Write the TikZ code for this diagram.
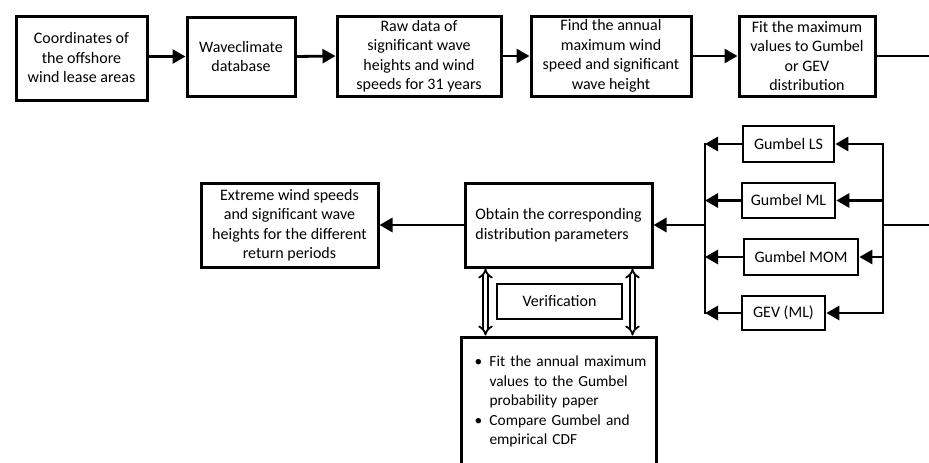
\documentclass[tikz,border=0pt]{standalone}
\usepackage{fontspec}
\setmainfont{Carlito}
\usetikzlibrary{arrows.meta,calc}
\begin{document}
\begin{tikzpicture}[x=1pt,y=-1pt,
  every node/.style={font=\fontsize{16}{19.5}\selectfont},
  box/.style={draw, line width=3pt, align=center, inner sep=0pt},
  gbox/.style={box, line width=2.7pt},
  conn/.style={line width=2.8pt},
  arr/.style={conn, -{Triangle[length=13pt,width=14pt]}},
  dbl/.style={double, line width=1.8pt, double distance=3pt, {Implies[length=7pt]}-{Implies[length=7pt]}}]
\useasboundingbox (0,0) rectangle (929,463);
\clip (0,0) rectangle (929,463);
% top row
\node[box, minimum width=131, minimum height=84] (b1) at (81.5,58) {Coordinates of\\the offshore\\wind lease areas};
\node[box, minimum width=108, minimum height=79] (b2) at (241,56.5) {Waveclimate\\database};
\node[box, minimum width=164, minimum height=80] (b3) at (419,56) {Raw data of\\significant wave\\heights and wind\\speeds for 31 years};
\node[box, minimum width=160, minimum height=80] (b4) at (611,56) {Find the annual\\maximum wind\\speed and significant\\wave height};
\node[box, minimum width=136, minimum height=80] (b5) at (807,56) {Fit the maximum\\values to Gumbel\\or GEV\\distribution};
\coordinate (out1) at (940,56);
\draw[arr] (b1.east |- b2.west) -- (b2.west);
\draw[arr] (b2.east) -- (b3.west);
\draw[arr] (b3.east) -- (b4.west);
\draw[arr] (b4.east) -- (b5.west);
\draw[conn] (b5.east) -- (out1);
% methods
\node[gbox, minimum width=91, minimum height=36] (ls) at (788.5,144) {Gumbel LS};
\node[gbox, minimum width=93, minimum height=35] (ml) at (788.5,200.5) {Gumbel ML};
\node[gbox, minimum width=114, minimum height=36] (mom) at (801,257) {Gumbel MOM};
\node[gbox, minimum width=83, minimum height=34] (gev) at (783.5,313) {GEV (ML)};
\coordinate (rbt) at (883,144);
\coordinate (rbb) at (883,313);
\coordinate (lbt) at (705,144);
\coordinate (lbb) at (705,313);
\coordinate (in2) at (940,225);
\draw[conn, line cap=rect] (rbt) -- (rbb);
\draw[conn, line cap=rect] (lbt) -- (lbb);
\draw[conn] (in2) -- (in2 -| rbt);
\draw[arr] (rbt) -- (ls.east);
\draw[arr] (rbt |- ml.east) -- (ml.east);
\draw[arr] (rbt |- mom.east) -- (mom.east);
\draw[arr] (rbt |- gev.east) -- (gev.east);
\draw[arr] (ls.west) -- (lbt |- ls.west);
\draw[arr] (ml.west) -- (lbt |- ml.west);
\draw[arr] (mom.west) -- (lbt |- mom.west);
\draw[arr] (gev.west) -- (lbt |- gev.west);
% middle row
\node[box, minimum width=187, minimum height=84, align=left] (obt) at (558.5,225) {Obtain the corresponding\\distribution parameters};
\node[box, minimum width=177, minimum height=84] (ext) at (289.5,225) {Extreme wind speeds\\and significant wave\\heights for the different\\return periods};
\draw[arr] (lbt |- obt.east) -- (obt.east);
\draw[arr] (obt.west) -- (ext.east);
% verification
\node[gbox, minimum width=125, minimum height=35] (ver) at (559.5,301.5) {Verification};
\node[box, minimum height=130, text width=169, align=left, inner xsep=13, font=\fontsize{15.4}{19.5}\selectfont] (bot) at (559,402)
  {\begin{tabular}{@{}p{15pt}@{}l@{}}\textbullet & Fit the annual maximum\\
  & values to the Gumbel\\
  & probability paper\\
  \textbullet & Compare Gumbel and\\
  & empirical CDF\end{tabular}};
\draw[dbl] ([xshift=22pt]obt.south west) -- ([xshift=22pt]obt.south west |- bot.north);
\draw[dbl] ([xshift=-21pt]obt.south east) -- ([xshift=-21pt]obt.south east |- bot.north);
\end{tikzpicture}
\end{document}
